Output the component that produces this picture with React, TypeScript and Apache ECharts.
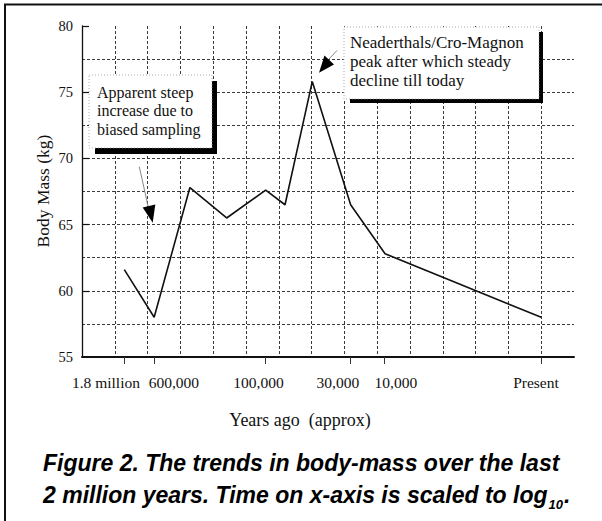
import React, { useEffect, useRef } from 'react';
import * as echarts from 'echarts';

// ---- data ----
const xPositions = [1.29, 2.2, 3.29, 4.41, 5.6, 6.19, 7.02, 8.19, 9.24, 14];
const bodyMass = [61.6, 58.0, 67.8, 65.5, 67.6, 66.5, 75.8, 66.5, 62.8, 58.0];
const tickPositions = [1.29, 2.2, 5.6, 8.19, 9.22, 14];
const tickLabels = ['1.8 million', '600,000', '100,000', '30,000', '10,000', 'Present'];
const labelPositions = [0.73, 2.8, 5.38, 7.8, 9.57, 13.84];
const yLabelValues = [55, 60, 65, 70, 75, 80];
const annotation1 = ['Apparent steep', 'increase due to', 'biased sampling'];
const annotation2 = ['Neaderthals/Cro-Magnon', 'peak after which steady', 'decline till today'];
const captionLine1 = 'Figure 2. The trends in body-mass over the last';
const captionLine2 = '2 million years. Time on x-axis is scaled to log';
const captionSub = '10';

const SERIF = '"Liberation Serif", "Times New Roman", serif';
const SANS = '"Liberation Sans", Arial, sans-serif';
const INK = '#111';

function measure(text: string, font: string): number {
  const c = document.createElement('canvas');
  const ctx = c.getContext('2d');
  if (!ctx) return text.length * 11;
  ctx.font = font;
  return ctx.measureText(text).width;
}

export default function App() {
  const ref = useRef<HTMLDivElement>(null);

  useEffect(() => {
    document.body.style.margin = '0';
    if (!ref.current) return;
    const chart = echarts.init(ref.current, null, { renderer: 'svg' });

    const seriesData = xPositions.map((x, i) => [x, bodyMass[i]]);
    const nearestLabel = (v: number) => {
      let best = 0;
      for (let i = 0; i < labelPositions.length; i++) {
        if (Math.abs(labelPositions[i] - v) < Math.abs(labelPositions[best] - v)) best = i;
      }
      return tickLabels[best];
    };

    const capFont = 'italic bold 23px "Liberation Sans"';
    const w2 = measure(captionLine2, capFont);
    const subW = measure(captionSub, 'italic bold 13px "Liberation Sans"');

    const gridLine = { type: [3, 2] as any, color: '#3a3a3a', width: 1 };

    chart.setOption({
      animation: false,
      backgroundColor: '#fff',
      grid: { left: 82, top: 26, width: 492, height: 331, containLabel: false },
      xAxis: [
        {
          type: 'value', min: 0, max: 15, interval: 1,
          axisLine: { show: true, lineStyle: { color: INK, width: 2 } },
          axisTick: { show: false },
          axisLabel: { show: false },
          splitLine: { show: true, showMaxLine: false, lineStyle: gridLine },
        },
        {
          type: 'value', min: 0, max: 15, position: 'bottom',
          axisLine: { show: false },
          axisTick: { show: true, customValues: tickPositions, length: 7, lineStyle: { color: '#333', width: 1 } },
          axisLabel: {
            show: true, customValues: labelPositions, formatter: (v: number) => nearestLabel(v),
            margin: 17, fontFamily: SERIF, fontSize: 15.5, color: INK,
          },
          splitLine: { show: false },
        },
      ],
      yAxis: [
        {
          type: 'value', min: 55, max: 80, interval: 2.5,
          axisLine: { show: true, lineStyle: { color: INK, width: 1.3 } },
          axisTick: { show: false },
          axisLabel: { show: false },
          splitLine: { show: true, showMaxLine: false, lineStyle: gridLine },
        },
        {
          type: 'value', min: 55, max: 80, position: 'left',
          axisLine: { show: false },
          axisTick: { show: true, inside: true, customValues: yLabelValues.slice(1), length: 7, lineStyle: { color: INK, width: 1.2 } },
          axisLabel: { show: true, customValues: yLabelValues, margin: 9, fontFamily: SERIF, fontSize: 14.5, color: INK },
          splitLine: { show: false },
        },
      ],
      series: [
        {
          type: 'line', xAxisIndex: 0, yAxisIndex: 0, data: seriesData,
          symbol: 'none', smooth: false, z: 5,
          lineStyle: { color: INK, width: 1.6 },
        },
      ],
      graphic: [
        // outer frame (cropped on right/bottom)
        { type: 'rect', shape: { x: 5, y: 4.5, width: 800, height: 800 }, style: { fill: 'none', stroke: INK, lineWidth: 2 }, z: 20 },
        // annotation box 1
        { type: 'rect', shape: { x: 95, y: 81, width: 122, height: 73 }, style: { fill: '#000' }, z: 10 },
        { type: 'rect', shape: { x: 89, y: 75, width: 123, height: 73 }, style: { fill: '#fff', stroke: '#999', lineWidth: 0.8, lineDash: [1, 2] }, z: 11 },
        {
          type: 'text', x: 97, y: 83.5, z: 12,
          style: { text: annotation1.join('\n'), font: `16px ${SERIF}`, fill: INK, lineHeight: 18.3, align: 'left', verticalAlign: 'top' },
        },
        // annotation box 2
        { type: 'rect', shape: { x: 350, y: 32, width: 193, height: 71 }, style: { fill: '#000' }, z: 10 },
        { type: 'rect', shape: { x: 344, y: 27, width: 195, height: 72 }, style: { fill: '#fff', stroke: '#999', lineWidth: 0.8, lineDash: [1, 2] }, z: 11 },
        {
          type: 'text', x: 350, y: 32.6, z: 12,
          style: { text: annotation2.join('\n'), font: `17px ${SERIF}`, fill: INK, lineHeight: 19.3, align: 'left', verticalAlign: 'top' },
        },
        // arrow 1
        { type: 'line', shape: { x1: 139.3, y1: 166.7, x2: 148, y2: 206 }, style: { stroke: '#777', lineWidth: 0.9 }, z: 12 },
        { type: 'polygon', shape: { points: [[142.7, 207.5], [155.3, 204.5], [152.7, 222.7]] }, style: { fill: '#000' }, z: 12 },
        // arrow 2
        { type: 'line', shape: { x1: 337, y1: 50.5, x2: 329, y2: 59 }, style: { stroke: '#777', lineWidth: 0.9 }, z: 12 },
        { type: 'polygon', shape: { points: [[324.5, 55.5], [334, 64.5], [319, 72.7]] }, style: { fill: '#000' }, z: 12 },
        // axis names
        {
          type: 'text', x: 42.7, y: 191, rotation: Math.PI / 2, z: 12,
          style: { text: 'Body Mass (kg)', font: `17.5px ${SERIF}`, fill: INK, align: 'center', verticalAlign: 'middle' },
        },
        {
          type: 'text', x: 300, y: 420, z: 12,
          style: { text: 'Years ago  (approx)', font: `18px ${SERIF}`, fill: INK, align: 'center', verticalAlign: 'middle' },
        },
        // caption
        {
          type: 'text', x: 43, y: 463, z: 12,
          style: { text: captionLine1, font: `italic bold 23px ${SANS}`, fill: '#000', align: 'left', verticalAlign: 'middle' },
        },
        {
          type: 'text', x: 43, y: 495, z: 12,
          style: { text: captionLine2, font: `italic bold 23px ${SANS}`, fill: '#000', align: 'left', verticalAlign: 'middle' },
        },
        {
          type: 'text', x: 43 + w2 + 1, y: 504, z: 12,
          style: { text: captionSub, font: `italic bold 13px ${SANS}`, fill: '#000', align: 'left', verticalAlign: 'middle' },
        },
        {
          type: 'text', x: 43 + w2 + subW + 2, y: 495, z: 12,
          style: { text: '.', font: `italic bold 23px ${SANS}`, fill: '#000', align: 'left', verticalAlign: 'middle' },
        },
      ],
    });

    return () => chart.dispose();
  }, []);

  return <div ref={ref} style={{ width: 602, height: 521 }} />;
}
